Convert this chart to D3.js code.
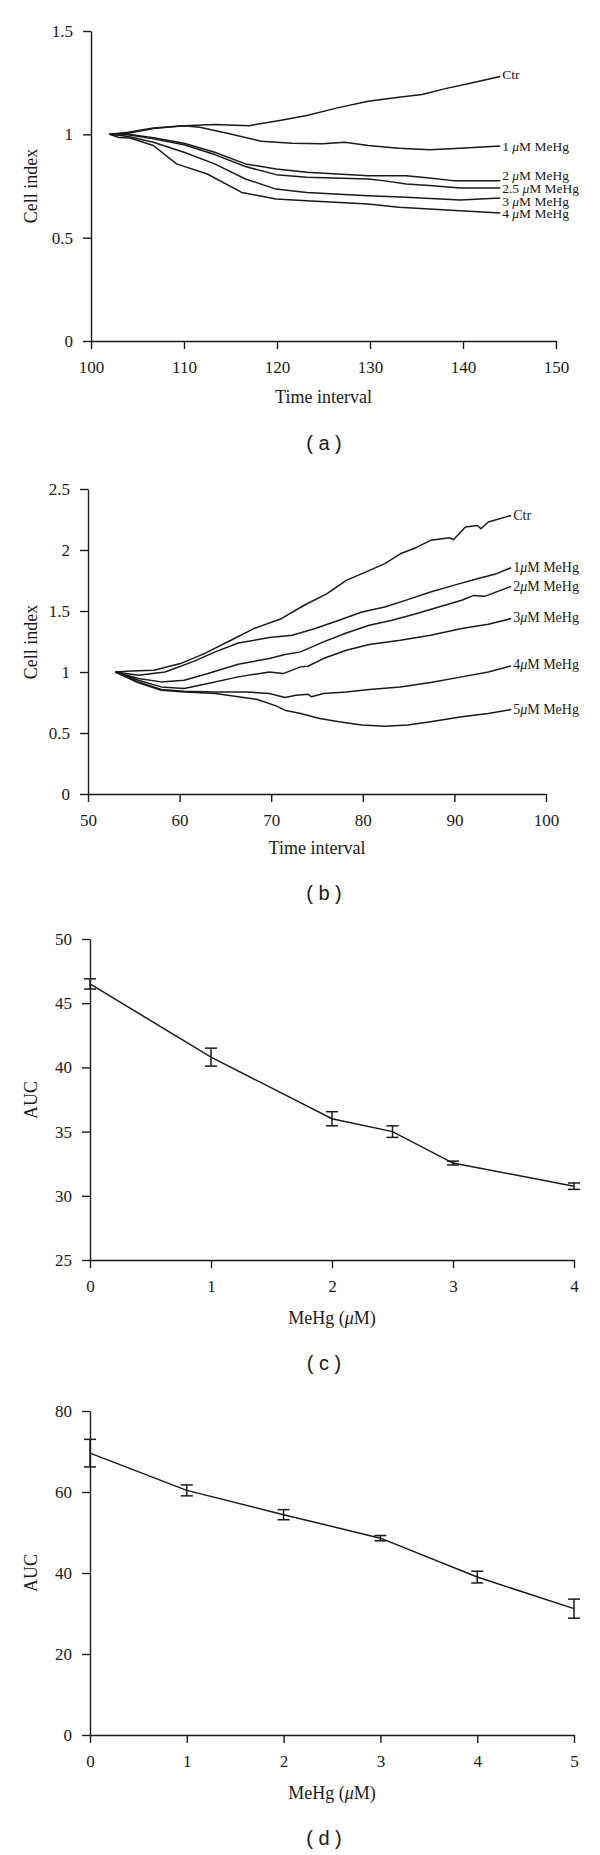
<!DOCTYPE html>
<html><head><meta charset="utf-8">
<script src="https://cdn.jsdelivr.net/npm/d3@7"></script>
<style>body{margin:0;background:#fff} svg{display:block}</style>
</head><body>
<svg id="chart" width="600" height="1855"></svg>
<script>
// ---------- Panel (a) data: [time, cell index] ----------
const aCtr = [[102,1.0],[104,1.01],[106.7,1.031],[110,1.042],[113.3,1.047],[117,1.042],[120.3,1.067],[123.2,1.091],[126.5,1.128],[129.8,1.16],[133.1,1.18],[135.6,1.193],[138,1.22],[140.9,1.248],[144,1.28]];
const a1 = [[102,1.0],[104,1.005],[107,1.03],[110,1.042],[111.7,1.034],[115,1.002],[118.3,0.967],[121.6,0.957],[124.9,0.954],[127.3,0.962],[129.8,0.946],[133.1,0.933],[136.4,0.926],[139.7,0.933],[144,0.944]];
const a2 = [[102,1],[104,1.0],[106.7,0.983],[110,0.957],[113.3,0.913],[116.6,0.857],[119.9,0.832],[123.2,0.816],[129.8,0.80],[133.9,0.80],[136.4,0.789],[138.9,0.776],[144,0.776]];
const a25 = [[102,1],[104,0.998],[106.7,0.978],[110,0.95],[113.3,0.902],[116.6,0.844],[119.9,0.805],[123.2,0.792],[129.8,0.784],[131.4,0.776],[133.9,0.76],[136.4,0.752],[139.7,0.74],[144,0.74]];
const a3 = [[102,1],[104,0.99],[106.7,0.962],[110,0.913],[113.3,0.857],[116.6,0.784],[119.9,0.735],[123.2,0.719],[129.8,0.703],[133.9,0.695],[139.7,0.682],[144,0.692]];
const a4 = [[102,1],[103,0.985],[104.2,0.982],[106.7,0.946],[109.2,0.857],[112.5,0.808],[116.2,0.719],[119.9,0.687],[123.2,0.679],[129.8,0.663],[133.1,0.647],[139.7,0.63],[144,0.619]];
const aSeriesNames = [["Ctr"],["1 ","μ","M MeHg"],["2 ","μ","M MeHg"],["2.5 ","μ","M MeHg"],["3 ","μ","M MeHg"],["4 ","μ","M MeHg"]];
const aXTicks = [100,110,120,130,140,150];
const aYTicks = [0,0.5,1,1.5];
const aYTickLabels = ["0","0.5","1","1.5"];

// ---------- Panel (b) data ----------
const bCtr = [[53,1.0],[54.7,1.009],[57.2,1.015],[60.1,1.069],[62.7,1.151],[65.6,1.26],[68.1,1.356],[71.1,1.437],[73.6,1.547],[76.1,1.642],[78.2,1.751],[80.3,1.819],[82.4,1.888],[84.1,1.969],[85.8,2.019],[87.4,2.079],[89.5,2.10],[89.9,2.084],[91.2,2.188],[92.5,2.201],[92.9,2.174],[93.7,2.229],[96.2,2.283]];
const b1 = [[53,1.0],[55.5,0.974],[58.4,1.0],[61.4,1.083],[63.9,1.165],[66.4,1.238],[69.8,1.282],[72.3,1.301],[74.8,1.356],[77.4,1.424],[79.9,1.492],[82.4,1.533],[84.9,1.593],[87.4,1.656],[89.9,1.71],[92.5,1.765],[94.6,1.806],[96.2,1.855]];
const b2 = [[53,1.0],[55.5,0.947],[58,0.919],[60.5,0.933],[63.1,0.987],[66.4,1.064],[69.8,1.11],[71.5,1.143],[73.2,1.165],[75.7,1.247],[78.2,1.32],[80.7,1.383],[83.2,1.424],[85.8,1.478],[88.3,1.533],[90.8,1.588],[92.1,1.628],[93.3,1.62],[96.2,1.702]];
const b3 = [[53,1.0],[55.5,0.933],[58,0.878],[60.5,0.865],[63.1,0.906],[66.4,0.96],[69.8,1.0],[71.3,0.987],[73.2,1.042],[74,1.047],[75.7,1.11],[78.2,1.178],[80.7,1.225],[84.1,1.26],[87.4,1.301],[90.8,1.356],[93.7,1.391],[96.2,1.438]];
const b4 = [[53,1.0],[55.5,0.919],[58,0.857],[60.5,0.843],[63.9,0.837],[67.3,0.837],[69.8,0.824],[71.5,0.791],[72.7,0.81],[74,0.818],[74.4,0.797],[75.7,0.824],[78.2,0.837],[80.7,0.857],[84.1,0.878],[87.4,0.914],[90.8,0.96],[93.7,1.0],[96.2,1.05]];
const b5 = [[53,1.0],[55.5,0.911],[58,0.851],[60.5,0.837],[63.9,0.824],[66.4,0.797],[68.5,0.775],[70.6,0.72],[71.5,0.687],[73.2,0.66],[75.3,0.619],[77.4,0.592],[79.9,0.565],[82.4,0.556],[84.9,0.565],[87.4,0.592],[90.8,0.633],[93.7,0.66],[96.2,0.693]];
const bSeriesNames = [["Ctr"],["1","μ","M MeHg"],["2","μ","M MeHg"],["3","μ","M MeHg"],["4","μ","M MeHg"],["5","μ","M MeHg"]];
const bXTicks = [50,60,70,80,90,100];
const bYTicks = [0,0.5,1,1.5,2,2.5];
const bYTickLabels = ["0","0.5","1","1.5","2","2.5"];

// ---------- Panel (c) data ----------
const cDose = [0,1,2,2.5,3,4];
const cAUC = [46.5,40.8,36.0,35.0,32.55,30.75];
const cErr = [0.4,0.7,0.55,0.45,0.15,0.25];
const cXTicks = [0,1,2,3,4];
const cYTicks = [25,30,35,40,45,50];

// ---------- Panel (d) data ----------
const dDose = [0,1,2,3,4,5];
const dAUC = [69.6,60.4,54.4,48.6,39.0,31.2];
const dErr = [3.4,1.35,1.25,0.65,1.45,2.35];
const dXTicks = [0,1,2,3,4,5];
const dYTicks = [0,20,40,60,80];

// ---------- drawing ----------
const svg = d3.select("#chart");
const serif = "'Liberation Serif','Times New Roman',serif";
const sans = "'Liberation Sans',Arial,sans-serif";
const ink = "#1a1a1a";

function frame(cfg) {
  const x = d3.scaleLinear().domain(cfg.xDomain).range([cfg.left, cfg.right]);
  const y = d3.scaleLinear().domain(cfg.yDomain).range([cfg.bottom, cfg.top]);
  const g = svg.append("g");
  const xa = g.append("g").attr("transform", `translate(0,${cfg.bottom})`)
    .call(d3.axisBottom(x).tickValues(cfg.xTicks).tickFormat(d3.format("~g"))
      .tickSize(8).tickSizeOuter(0).tickPadding(12));
  const ya = g.append("g").attr("transform", `translate(${cfg.left},0)`)
    .call(d3.axisLeft(y).tickValues(cfg.yTicks)
      .tickFormat((d,i) => cfg.yTickLabels ? cfg.yTickLabels[i] : d3.format("~g")(d))
      .tickSize(8).tickSizeOuter(0).tickPadding(10));
  [xa, ya].forEach(a => {
    a.selectAll("path,line").attr("stroke", ink).attr("stroke-width", 1.4);
    a.selectAll("text").attr("font-family", serif).attr("font-size", 17).attr("fill", ink);
  });
  const xt = g.append("text").attr("x", (cfg.left + cfg.right) / 2).attr("y", cfg.bottom + cfg.xTitleOff)
    .attr("text-anchor", "middle").attr("dy", "0.35em")
    .attr("font-family", serif).attr("font-size", 18).attr("fill", ink);
  cfg.xTitle.forEach((p, i) => xt.append("tspan").text(p).attr("font-style", i === 1 && cfg.xTitle.length > 1 ? "italic" : null));
  g.append("text").attr("transform", `translate(31,${cfg.yTitleY}) rotate(-90)`)
    .attr("text-anchor", "middle").attr("dy", "0.35em")
    .attr("font-family", serif).attr("font-size", 18).attr("fill", ink).text(cfg.yTitle);
  g.append("text").attr("x", 324).attr("y", cfg.panelY).attr("dy", "0.35em")
    .attr("text-anchor", "middle").attr("font-family", sans).attr("font-size", 20)
    .attr("fill", ink).text(cfg.panelLabel);
  return {g, x, y};
}

function curves(f, series, names, labelDy, labelFont) {
  const line = d3.line().x(d => f.x(d[0])).y(d => f.y(d[1]));
  series.forEach((s, i) => {
    f.g.append("path").datum(s).attr("d", line).attr("fill", "none")
      .attr("stroke", ink).attr("stroke-width", 1.5).attr("stroke-linejoin", "round");
    const last = s[s.length - 1];
    const t = f.g.append("text").attr("x", f.x(last[0]) + 2).attr("y", f.y(last[1]) + labelDy[i])
      .attr("dy", "0.35em").attr("font-family", serif).attr("font-size", labelFont).attr("fill", ink);
    names[i].forEach((p, j) => t.append("tspan").text(p).attr("font-style", j === 1 ? "italic" : null));
  });
}

function errLine(f, xs, ys, es) {
  const pts = xs.map((d, i) => [d, ys[i], es[i]]);
  const line = d3.line().x(d => f.x(d[0])).y(d => f.y(d[1]));
  f.g.append("path").datum(pts).attr("d", line).attr("fill", "none")
    .attr("stroke", ink).attr("stroke-width", 1.5);
  const eb = f.g.selectAll(".eb").data(pts).enter().append("g");
  eb.append("line").attr("x1", d => f.x(d[0])).attr("x2", d => f.x(d[0]))
    .attr("y1", d => f.y(d[1] - d[2])).attr("y2", d => f.y(d[1] + d[2]))
    .attr("stroke", ink).attr("stroke-width", 1.5);
  [-1, 1].forEach(s => eb.append("line")
    .attr("x1", d => f.x(d[0]) - 6).attr("x2", d => f.x(d[0]) + 6)
    .attr("y1", d => f.y(d[1] + s * d[2])).attr("y2", d => f.y(d[1] + s * d[2]))
    .attr("stroke", ink).attr("stroke-width", 1.5));
}

const fa = frame({xDomain:[100,150], yDomain:[0,1.5], left:91, right:556, top:31, bottom:341,
  xTicks:aXTicks, yTicks:aYTicks, yTickLabels:aYTickLabels,
  xTitle:["Time interval"], xTitleOff:56, yTitle:"Cell index", yTitleY:186, panelY:443, panelLabel:"( a )"});
curves(fa, [aCtr,a1,a2,a25,a3,a4], aSeriesNames, [-2,0,-5,0,3,0], 13.5);

const fb = frame({xDomain:[50,100], yDomain:[0,2.5], left:88, right:546, top:489, bottom:794,
  xTicks:bXTicks, yTicks:bYTicks, yTickLabels:bYTickLabels,
  xTitle:["Time interval"], xTitleOff:54, yTitle:"Cell index", yTitleY:642, panelY:893, panelLabel:"( b )"});
curves(fb, [bCtr,b1,b2,b3,b4,b5], bSeriesNames, [0,-1,0,-1,-2,0], 14);

const fc = frame({xDomain:[0,4], yDomain:[25,50], left:90, right:574, top:939, bottom:1260,
  xTicks:cXTicks, yTicks:cYTicks,
  xTitle:["MeHg (","μ","M)"], xTitleOff:58, yTitle:"AUC", yTitleY:1100, panelY:1363, panelLabel:"( c )"});
errLine(fc, cDose, cAUC, cErr);

const fd = frame({xDomain:[0,5], yDomain:[0,80], left:90, right:574, top:1411, bottom:1735,
  xTicks:dXTicks, yTicks:dYTicks,
  xTitle:["MeHg (","μ","M)"], xTitleOff:58, yTitle:"AUC", yTitleY:1573, panelY:1838, panelLabel:"( d )"});
errLine(fd, dDose, dAUC, dErr);
</script>
</body></html>
